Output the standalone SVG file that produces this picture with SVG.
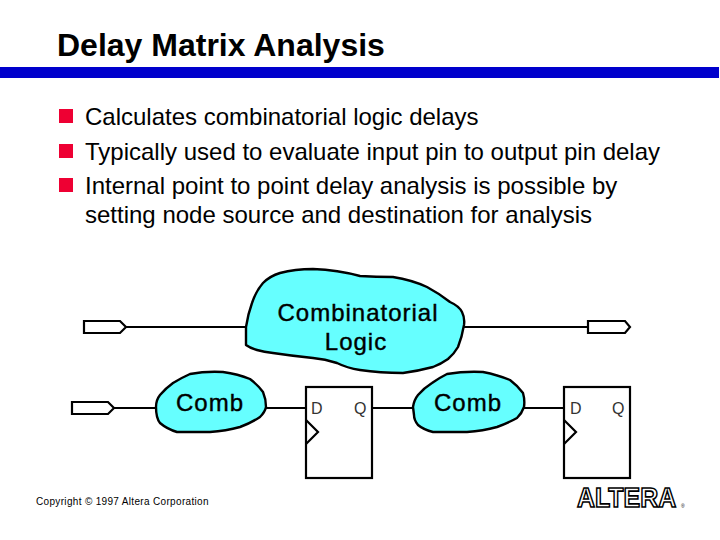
<svg xmlns="http://www.w3.org/2000/svg" width="720" height="540" viewBox="0 0 720 540">
<style>
text{font-family:"Liberation Sans",Arial,sans-serif;fill:#000}
.title{font-size:32px;font-weight:700}
.bullet{font-size:24px}
.blob{fill:#66ffff;stroke:#000;stroke-width:2.4;stroke-linejoin:round}
.blobtext{font-size:24px;letter-spacing:1px;text-anchor:middle;stroke:#000;stroke-width:.4}
.wire{fill:none;stroke:#000;stroke-width:2.2}
.pin{fill:#fff;stroke:#000;stroke-width:2.2}
.ff{fill:#fff;stroke:#000;stroke-width:2.2}
.clk{fill:none;stroke:#000;stroke-width:2.2}
.port{font-size:16px;fill:#333}
.red{fill:#ee0033}
</style>
<rect width="720" height="540" fill="#fff"/>
<text class="title" x="57" y="56">Delay Matrix Analysis</text>
<rect x="0" y="67" width="719" height="11" fill="#0000cc"/>
<g id="bullets">
<rect class="red" x="59" y="109" width="14" height="14"/>
<rect class="red" x="59" y="144" width="14" height="14"/>
<rect class="red" x="59" y="178" width="14" height="14"/>
<text class="bullet" x="85" y="125">Calculates combinatorial logic delays</text>
<text class="bullet" x="85" y="160">Typically used to evaluate input pin to output pin delay</text>
<text class="bullet" x="85" y="194">Internal point to point delay analysis is possible by</text>
<text class="bullet" x="85" y="223">setting node source and destination for analysis</text>
</g>
<g id="connectors">
<path class="wire" d="M126 327H246"/>
<path class="wire" d="M464 327H588"/>
<path class="wire" d="M114 408H156"/>
<path class="wire" d="M266 408H306"/>
<path class="wire" d="M372 408H414"/>
<path class="wire" d="M524 408H564"/>
</g>
<g id="pin-in-top"><path class="pin" d="M84 321H120L126 327L120 333H84Z"/></g>
<g id="pin-out-top"><path class="pin" d="M588 321H625L630 327L625 333H588Z"/></g>
<g id="pin-in-bottom"><path class="pin" d="M72 402H108L114 408L108 414H72Z"/></g>
<g id="comb-logic">
<path class="blob" d="M246 327Q248 314 252 303Q256 291 263 283Q270 276 280 273Q295 269 313 269Q338 270 360 276Q376 277 393 277Q412 280 427 287Q440 294 450 302Q459 306 462 312Q465 318 464 325Q462 337 458 347Q454 354 448 359Q441 364 433 367Q418 371 403 373Q380 373 360 370Q347 368 337 363Q325 359 313 358Q293 356 273 353Q264 352 257 350Q250 348 246 345Z"/>
<text class="blobtext" x="358" y="321">Combinatorial</text>
<text class="blobtext" x="356" y="350">Logic</text>
</g>
<g id="comb-1">
<path class="blob" d="M156 407Q156 400 160 395Q166 388 173 383Q181 378 190 374Q206 371 223 372Q238 374 250 379Q258 385 263 392Q266 399 266 407Q265 412 260 417Q251 423 240 427Q226 431 210 432H177Q167 429 160 423Q156 418 156 407Z"/>
<text class="blobtext" x="210" y="411">Comb</text>
</g>
<g id="comb-2">
<path class="blob" d="M413 407Q414 400 418 395Q424 388 432 383Q439 378 447 374Q465 371 483 372Q498 375 510 380Q518 386 523 393Q525 400 524 407Q522 413 517 418Q508 423 497 427Q483 431 467 432H433Q424 430 418 425Q414 420 414 415Z"/>
<text class="blobtext" x="468" y="411">Comb</text>
</g>
<g id="ff-1">
<rect class="ff" x="306" y="387" width="66" height="91"/>
<path class="clk" d="M306 420L318 432L306 444"/>
<text class="port" x="311" y="414">D</text>
<text class="port" x="354" y="414">Q</text>
</g>
<g id="ff-2">
<rect class="ff" x="564" y="387" width="66" height="91"/>
<path class="clk" d="M564 420L576 432L564 444"/>
<text class="port" x="570" y="414">D</text>
<text class="port" x="612" y="414">Q</text>
</g>
<text x="36" y="505" font-size="10" letter-spacing=".33">Copyright © 1997 Altera Corporation</text>
<g id="logo">
<text transform="translate(577 507) scale(.89 1)" font-size="28" font-weight="700" style="fill:#fff;stroke:#000;stroke-width:1.6">ALTERA</text>
<text x="681" y="508" font-size="5" fill="#555">®</text>
</g>
</svg>
